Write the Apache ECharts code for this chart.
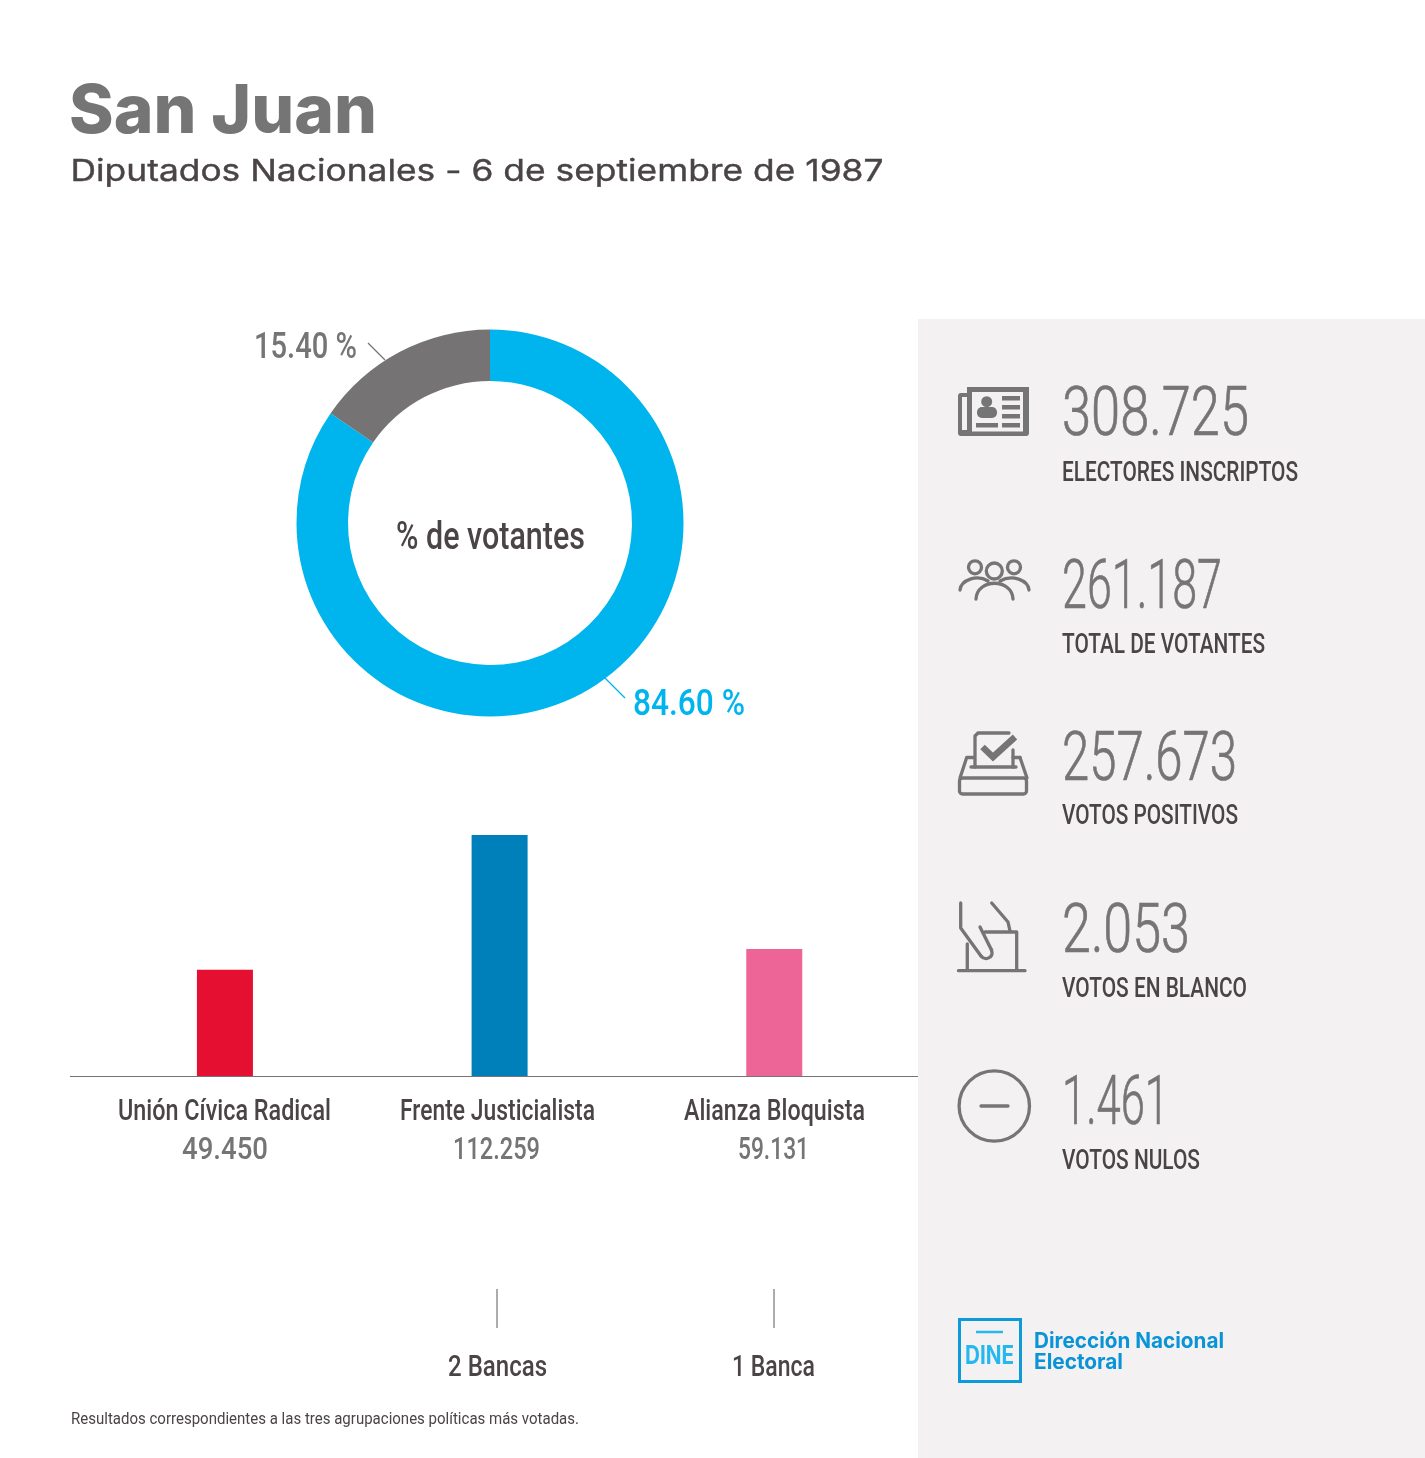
<!DOCTYPE html>
<html><head><meta charset="utf-8">
<script src="https://cdn.jsdelivr.net/npm/echarts@6/dist/echarts.min.js"></script>
<style>html,body{margin:0;padding:0;background:#fff}#c{width:1425px;height:1458px}</style></head>
<body><div id="c"></div>
<script>
const title = 'San Juan';
const subtitle = 'Diputados Nacionales - 6 de septiembre de 1987';
const turnoutNames = ['Votantes', 'No votantes'];
const turnoutValues = [84.60, 15.40];
const turnoutLabels = ['84.60 %', '15.40 %'];
const donutCenter = '% de votantes';
const parties = ['Unión Cívica Radical', 'Frente Justicialista', 'Alianza Bloquista'];
const partyVotes = [49450, 112259, 59131];
const partyVoteLabels = ['49.450', '112.259', '59.131'];
const seatLabels = ['', '2 Bancas', '1 Banca'];
const statValues = ['308.725', '261.187', '257.673', '2.053', '1.461'];
const statNames = ['ELECTORES INSCRIPTOS', 'TOTAL DE VOTANTES', 'VOTOS POSITIVOS', 'VOTOS EN BLANCO', 'VOTOS NULOS'];
const footnote = 'Resultados correspondientes a las tres agrupaciones políticas más votadas.';

const GREY='#767576', DARK='#4a4446', PANEL='#f3f1f2', SKY='#00b5ee';
const cv=document.createElement('canvas').getContext('2d');
const els=[];
function txt(s,left,cy,size,weight,color,w,family,bold){
  family=family||'Roboto';
  const font=weight+' '+size+'px "'+family+'"';
  cv.font=font;
  const sx=w/cv.measureText(s).width;
  const style={x:0,y:0,text:s,font:font,fill:color,align:'left',verticalAlign:'middle'};
  if(bold){style.stroke=color;style.lineWidth=bold;}
  els.push({type:'text',x:left,y:cy,scaleX:sx,z:10,style});
}
const st={stroke:GREY,lineWidth:3.3,fill:'none',lineCap:'round',lineJoin:'round'};
function rect(x,y,w,h,fill,r){els.push({type:'rect',z:5,shape:{x,y,width:w,height:h,r:r||0},style:{fill}})}
function poly(p,s){els.push({type:'polyline',z:6,shape:{points:p},style:Object.assign({},st,s||{})})}
function circ(cx,cy,r,s){els.push({type:'circle',z:6,shape:{cx,cy,r},style:Object.assign({},st,s||{})})}
function bez(a,b,c,d){els.push({type:'bezierCurve',z:6,shape:{x1:a[0],y1:a[1],cpx1:b[0],cpy1:b[1],cpx2:c[0],cpy2:c[1],x2:d[0],y2:d[1]},style:st})}

// panel
els.push({type:'rect',z:0,shape:{x:918,y:319,width:507,height:1139},style:{fill:PANEL}});
// header
txt(title,69,113,67,800,GREY,308,'Inter');
txt(subtitle,70.5,172,30,400,DARK,813,'Inter',0.4);
// donut texts
txt(donutCenter,396,539,38,500,DARK,189);
txt(turnoutLabels[1],254,349,36,500,GREY,103);
txt(turnoutLabels[0],633,706,36,500,SKY,112);
poly([[368,343],[385,360]],{lineWidth:1.2,lineCap:'butt'});
poly([[605,678],[625,698]],{lineWidth:1.2,lineCap:'butt',stroke:SKY});
// bar axis line
poly([[70,1076.5],[918,1076.5]],{lineWidth:1,lineCap:'butt'});
// party labels
const nameBox=[[118,213],[400,195],[684,181]], voteBox=[[182,86],[453,87],[738,71]];
parties.forEach((p,i)=>{
  txt(p,nameBox[i][0],1112,30,500,DARK,nameBox[i][1]);
  txt(partyVoteLabels[i],voteBox[i][0],1151,32,500,GREY,voteBox[i][1]);
});
// seats
const seatBox=[null,[448,99,497],[732,83,774]];
seatLabels.forEach((s,i)=>{ if(!s)return;
  txt(s,seatBox[i][0],1368,30,500,DARK,seatBox[i][1]);
  poly([[seatBox[i][2],1289],[seatBox[i][2],1328]],{lineWidth:1.2,lineCap:'butt'});
});
txt(footnote,71,1420,17,400,DARK,508);
// stats
const numW=[187,160,175,128,107], nameW=[236,203,176,185,138];
const numY=[418,591,763,935,1107], nameY=[474,646,817,990,1162];
statValues.forEach((v,i)=>{
  txt(v,1062,numY[i],68,300,GREY,numW[i],'Roboto',0.7);
  txt(statNames[i],1062,nameY[i],28,500,DARK,nameW[i]);
});
// icon: newspaper
rect(958,393,71,43,GREY,3); rect(967,387,62,8,GREY);
rect(962,397,5,33,PANEL); rect(972,392,51,39.5,PANEL);
circ(986.7,401.7,5.5,{fill:GREY,stroke:'none'}); rect(977,407,20,11,GREY,5);
[396,405,414,423].forEach(y=>rect(1002,y,18,4.5,GREY)); rect(976,423,22,4.5,GREY);
// icon: people
circ(975,567.3,6.5); circ(994.3,571,8); circ(1014,567.3,6.5);
bez([960,590],[961,580],[977,574],[988,581]);
bez([1029,590],[1028,580],[1012,574],[1000,581]);
bez([976,599],[977,578],[1012,578],[1013,599]);
// icon: ballot box
els.push({type:'rect',z:6,shape:{x:959.5,y:778,width:67,height:16,r:3},style:{stroke:GREY,lineWidth:3.3,fill:'none'}});
poly([[960,778],[966.7,757.5],[974,757.5]]); poly([[1020,757.5],[1027,778]]); poly([[1020,757.5],[1013,757.5]]);
poly([[971,767],[1016,767]]);
poly([[975,767],[975,736],[978,733],[1009,733]]); poly([[1013,750],[1013,767]]);
poly([[982.5,747],[993,757],[1015,737]],{lineWidth:6.5,lineCap:'butt',lineJoin:'miter'});
// icon: hand & box
poly([[958.5,970.7],[1025,970.7]]);
poly([[967.3,944],[967.3,970]]); poly([[985,932],[1016.7,932],[1016.7,970]]);
poly([[960.7,903],[960.7,928],[973,945],[981,956]]);
bez([981,956],[985,961],[994,958],[991.5,950]);
poly([[991.5,950],[980,927]]);
poly([[991.7,903],[1008,922],[1010,931]]);
// icon: minus
circ(994.3,1106,35.2); poly([[981,1106],[1008,1106]]);
// logo
els.push({type:'rect',z:6,shape:{x:959.5,y:1319.5,width:61,height:62},style:{fill:'none',stroke:'#0d9ad9',lineWidth:3}});
poly([[976,1332],[1003,1332]],{stroke:'#25b8ee',lineCap:'butt',lineWidth:2.5});
txt('DINE',965,1356,25,700,'#25b8ee',49,'Inter');
txt('Dirección Nacional',1034,1342,21,700,'#0a93d6',190,'Inter');
txt('Electoral',1034,1363,21,700,'#0a93d6',89,'Inter');

const barColors=['#e40f31','#0080bb','#ec6596'];
const chart=echarts.init(document.getElementById('c'),null,{renderer:'canvas'});
chart.setOption({
  backgroundColor:'#ffffff',animation:false,
  grid:{left:87.6,width:824,top:835,height:241},
  xAxis:{type:'category',data:parties,axisLine:{show:false},axisTick:{show:false},axisLabel:{show:false}},
  yAxis:{type:'value',min:0,max:112259,show:false,splitLine:{show:false}},
  series:[
   {type:'pie',center:[490,523],radius:[142,193.5],startAngle:90,clockwise:true,silent:true,
    label:{show:false},labelLine:{show:false},
    data:turnoutValues.map((v,i)=>({name:turnoutNames[i],value:v,itemStyle:{color:[SKY,'#767374'][i]}}))},
   {type:'bar',barWidth:56,silent:true,
    data:partyVotes.map((v,i)=>({value:v,itemStyle:{color:barColors[i]}}))}
  ],
  graphic:{elements:els}
});
</script></body></html>
